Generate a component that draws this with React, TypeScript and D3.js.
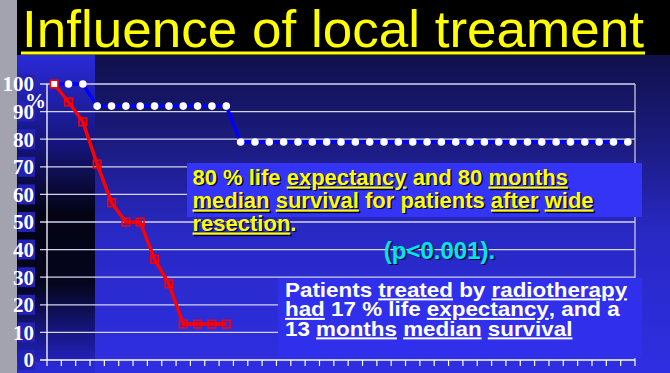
import React from 'react';
import * as d3 from 'd3';

// survival (%) per month slot
const wideResection = [
  100, 100, 100, 92, 92, 92, 92, 92, 92, 92, 92, 92, 92,
  79, 79, 79, 79, 79, 79, 79, 79, 79, 79, 79, 79, 79, 79,
  79, 79, 79, 79, 79, 79, 79, 79, 79, 79, 79, 79, 79, 79,
];
const radiotherapy = [100, 93.5, 86.3, 71, 57, 50, 50, 36.5, 27.6, 13, 13, 13, 13];
const yTicks = [0, 10, 20, 30, 40, 50, 60, 70, 80, 90, 100];

const title = 'Influence of local treament';
const yellowLines: [string, boolean][][] = [
  [['80 % life ', false], ['expectancy', true], [' and 80 ', false], ['months', true]],
  [['median', true], [' ', false], ['survival', true], [' for patients ', false], ['after', true], [' ', false], ['wide', true]],
  [['resection', true], ['.', false]],
];
const whiteLines: [string, boolean][][] = [
  [['Patients ', false], ['treated', true], [' by ', false], ['radiotherapy', true]],
  [['had', true], [' 17 % life ', false], ['expectancy', true], [', and a', false]],
  [['13 ', false], ['months', true], [' ', false], ['median', true], [' ', false], ['survival', true]],
];
const pText = '(p<0.001).';

const W = 670;
const H = 373;
const plot = { left: 47, right: 635, top: 84, bottom: 360 };
const sans = '"Liberation Sans", Arial, sans-serif';
const serif = '"Liberation Serif", "Times New Roman", serif';

const Words = ({ parts }: { parts: [string, boolean][] }) => (
  <>
    {parts.map(([t, u], i) => (
      <tspan key={i} style={{ textDecoration: u ? 'underline' : 'none' }}>{t}</tspan>
    ))}
  </>
);

export default function App() {
  const x = d3.scaleBand<number>()
    .domain(wideResection.map((_, i) => i))
    .range([plot.left, plot.right])
    .paddingInner(0)
    .paddingOuter(0);
  const cx = (i: number) => (x(i) as number) + x.bandwidth() / 2;
  const y = d3.scaleLinear().domain([0, 100]).range([plot.bottom, plot.top]);
  const line = d3.line<number>().x((_, i) => cx(i)).y(d => y(d));
  const tickXs = [...x.domain().map(i => x(i) as number), plot.right];

  return (
    <svg width={W} height={H} style={{ position: 'fixed', left: 0, top: 0, display: 'block' }}>
      <defs>
        <linearGradient id="bgMain" gradientUnits="userSpaceOnUse" x1="0" y1="55" x2="0" y2={H}>
          <stop offset="0" stopColor="#10104c" />
          <stop offset="0.3" stopColor="#1c1c84" />
          <stop offset="0.55" stopColor="#2828c4" />
          <stop offset="1" stopColor="#2f2fe2" />
        </linearGradient>
        <linearGradient id="bgLeft" gradientUnits="userSpaceOnUse" x1="0" y1="55" x2="0" y2={H}>
          <stop offset="0" stopColor="#2a2ad8" />
          <stop offset="0.28" stopColor="#15157c" />
          <stop offset="0.5" stopColor="#030314" />
          <stop offset="0.72" stopColor="#05051e" />
          <stop offset="0.92" stopColor="#1c1ca0" />
          <stop offset="1" stopColor="#2828d0" />
        </linearGradient>
      </defs>

      {/* slide background */}
      <rect x={0} y={0} width={W} height={H} fill="url(#bgMain)" />
      <rect x={17} y={55} width={78} height={H - 55} fill="url(#bgLeft)" />
      <rect x={17} y={362} width={78} height={H - 362} fill="#2a2ad4" />
      <rect x={0} y={0} width={17} height={H} fill="#a2a3ae" />
      <rect x={17} y={0} width={W - 17} height={55} fill="#000000" />

      <text x={22} y={47} fontFamily={sans} fontSize={52} textLength={622} lengthAdjust="spacingAndGlyphs"
        fill="#ffff00">{title}</text>
      <rect x={21} y={51.5} width={624} height={3} fill="#ffff00" />

      {/* y labels */}
      {yTicks.map(t => (
        <g key={t}>
          <rect x={18} y={y(t) - 10} width={17} height={20} fill="#2222b4" />
          <text x={34} y={y(t)} dy="0.35em" textAnchor="end" fontFamily={serif}
            fontWeight="bold" fontSize={21} fill="#ffffff">{t}</text>
        </g>
      ))}
      <text x={25} y={108} fontFamily={serif} fontWeight="bold" fontSize={21} fill="#ffffff">%</text>

      {/* grid */}
      {yTicks.filter(t => t > 0).map(t => (
        <line key={t} x1={40} x2={plot.right} y1={y(t)} y2={y(t)} stroke="#d4d4ea" strokeWidth={1.3} />
      ))}
      <line x1={plot.right} x2={plot.right} y1={plot.top} y2={plot.bottom} stroke="#c8c8d8" strokeWidth={1.3} />
      <line x1={plot.left} x2={plot.left} y1={plot.top} y2={plot.bottom} stroke="#ffffff" strokeWidth={1.3} />
      <line x1={40} x2={plot.right} y1={plot.bottom} y2={plot.bottom} stroke="#ffffff" strokeWidth={1.3} />
      {tickXs.map((tx, i) => (
        <line key={i} x1={tx} x2={tx} y1={plot.bottom} y2={plot.bottom + 6} stroke="#ffffff" strokeWidth={1.2} />
      ))}

      {/* wide resection series */}
      <path d={line(wideResection) ?? ''} fill="none" stroke="#0000ff" strokeWidth={3.5} />
      {wideResection.map((v, i) => (
        <circle key={i} cx={cx(i)} cy={y(v)} r={3.8} fill="#ffffff" />
      ))}

      {/* radiotherapy series */}
      <path d={line(radiotherapy) ?? ''} fill="none" stroke="#ff0000" strokeWidth={3.5} />
      {radiotherapy.map((v, i) => (
        <rect key={i} x={cx(i) - 3.8} y={y(v) - 3.8} width={7.6} height={7.6}
          fill={i === 0 ? '#ffffff' : 'none'} stroke="#ff0000" strokeWidth={1.6} />
      ))}

      {/* annotation boxes */}
      <rect x={187} y={163} width={455} height={54} fill="#3434f6" />
      {yellowLines.map((parts, i) => (
        <g key={i}>
          <text x={194} y={186 + i * 23} fontFamily={sans} fontWeight="bold" fontSize={22} fill="#00003a">
            <Words parts={parts} />
          </text>
          <text x={192.5} y={184.5 + i * 23} fontFamily={sans} fontWeight="bold" fontSize={22} fill="#ffff00">
            <Words parts={parts} />
          </text>
        </g>
      ))}

      <text x={441} y={260} textAnchor="middle" fontFamily={sans} fontWeight="bold" fontSize={24} fill="#00003a">{pText}</text>
      <text x={439.5} y={258.5} textAnchor="middle" fontFamily={sans} fontWeight="bold" fontSize={24} fill="#00e6e6">{pText}</text>

      <rect x={278} y={278} width={364} height={80} fill="#3030ec" />
      {whiteLines.map((parts, i) => (
        <text key={i} transform={`translate(285,${296.5 + i * 19.5}) scale(1.12,1)`} fontFamily={sans}
          fontWeight="bold" fontSize={20} fill="#ffffff">
          <Words parts={parts} />
        </text>
      ))}
    </svg>
  );
}
